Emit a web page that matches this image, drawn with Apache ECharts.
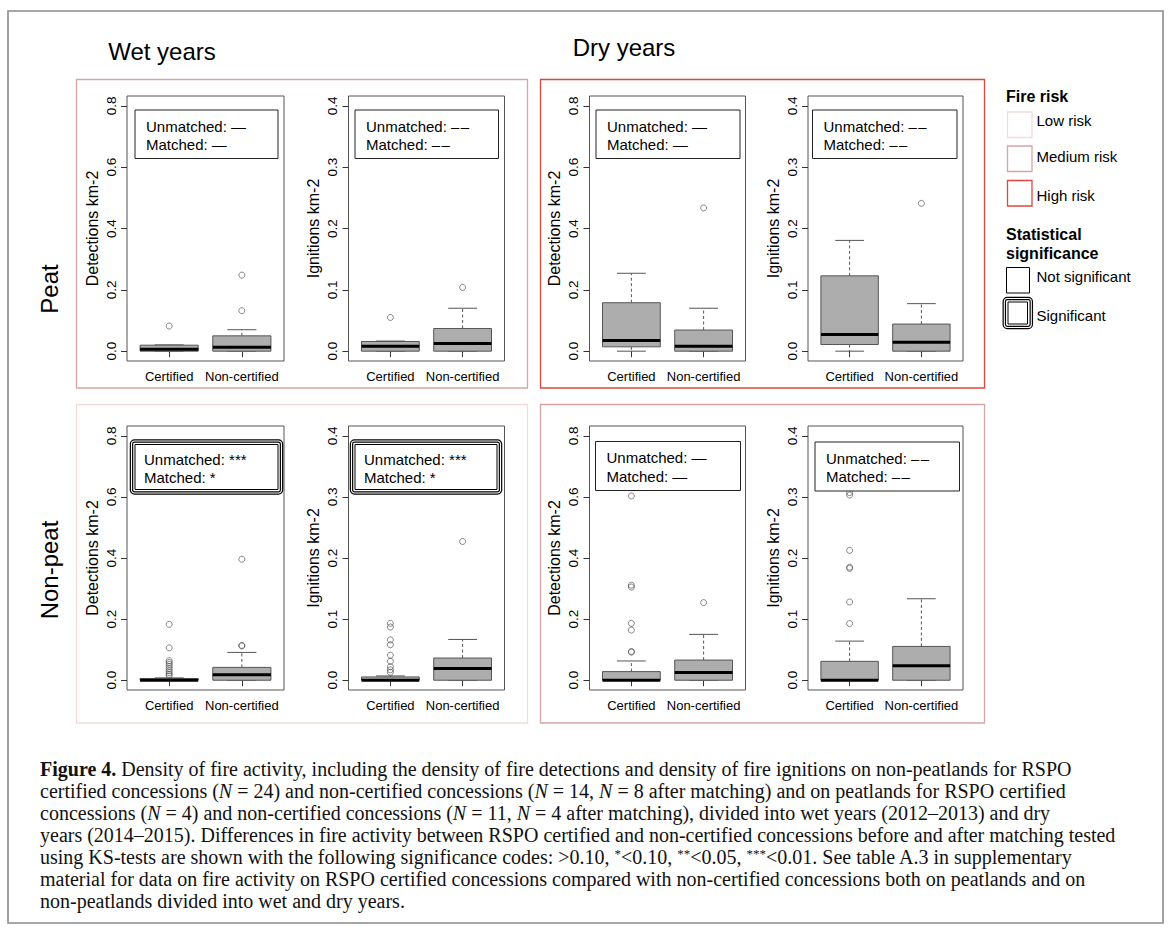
<!DOCTYPE html>
<html><head><meta charset="utf-8">
<script src="https://cdn.jsdelivr.net/npm/echarts@6/dist/echarts.min.js"></script>
<style>html,body{margin:0;padding:0;background:#fff}#c{width:1171px;height:937px}</style>
</head><body><div id="c"></div>
<script>
// ---------------- DATA ----------------
const categories = ['Certified', 'Non-certified'];
const detTicks = [0, 0.2, 0.4, 0.6, 0.8];
const ignTicks = [0, 0.1, 0.2, 0.3, 0.4];
// box stats: [lower whisker, Q1, median, Q3, upper whisker] for Certified, Non-certified
const wetPeatDetBox = [[0, 0, 0.0065, 0.0196, 0.0205], [0, 0, 0.013, 0.050, 0.070]];
const wetPeatDetOut = [[0.082], [0.132, 0.248]];
const wetPeatIgnBox = [[0, 0, 0.0082, 0.0158, 0.0165], [0, 0, 0.0126, 0.037, 0.070]];
const wetPeatIgnOut = [[0.055], [0.104]];
const dryPeatDetBox = [[0, 0.0142, 0.035, 0.158, 0.254], [0, 0, 0.0164, 0.069, 0.140]];
const dryPeatDetOut = [[], [0.467]];
const dryPeatIgnBox = [[0, 0.0109, 0.0273, 0.1228, 0.1806], [0, 0, 0.0147, 0.0442, 0.0775]];
const dryPeatIgnOut = [[], [0.241]];
const wetNonDetBox = [[0, 0, 0, 0.0054, 0.0076], [0, 0, 0.018, 0.042, 0.091]];
const wetNonDetOut = [[0.183, 0.106, 0.064, 0.058, 0.052, 0.045, 0.038, 0.031, 0.025, 0.019, 0.014], [0.112, 0.114, 0.396]];
const wetNonIgnBox = [[0, 0, 0, 0.0054, 0.0070], [0, 0, 0.019, 0.0363, 0.0667]];
const wetNonIgnOut = [[0.093, 0.087, 0.066, 0.058, 0.041, 0.031, 0.022, 0.017, 0.013], [0.227]];
const dryNonDetBox = [[0, 0, 0, 0.0282, 0.063], [0, 0, 0.025, 0.066, 0.150]];
const dryNonDetOut = [[0.092, 0.094, 0.164, 0.186, 0.305, 0.311, 0.603], [0.254]];
const dryNonIgnBox = [[0, 0, 0, 0.0309, 0.064], [0, 0, 0.0238, 0.0553, 0.1333]];
const dryNonIgnOut = [[0.0927, 0.128, 0.183, 0.185, 0.2125, 0.303, 0.307], []];
// significance codes: [Unmatched, Matched]
const wetPeatDetSig = ['—', '—'];
const wetPeatIgnSig = ['–\u200a–', '–\u200a–'];
const dryPeatDetSig = ['—', '—'];
const dryPeatIgnSig = ['–\u200a–', '–\u200a–'];
const wetNonDetSig = ['***', '*'];
const wetNonIgnSig = ['***', '*'];
const dryNonDetSig = ['—', '—'];
const dryNonIgnSig = ['–\u200a–', '–\u200a–'];
const colTitles = ['Wet years', 'Dry years'];
const rowTitles = ['Peat', 'Non-peat'];
const riskLabels = ['Low risk', 'Medium risk', 'High risk'];
const sigLabels = ['Not significant', 'Significant'];
const captionLines = [
  '{b|Figure 4.} Density of fire activity, including the density of fire detections and density of fire ignitions on non-peatlands for RSPO',
  'certified concessions ({i|N} = 24) and non-certified concessions ({i|N} = 14, {i|N} = 8 after matching) and on peatlands for RSPO certified',
  'concessions ({i|N} = 4) and non-certified concessions ({i|N} = 11, {i|N} = 4 after matching), divided into wet years (2012–2013) and dry',
  'years (2014–2015). Differences in fire activity between RSPO certified and non-certified concessions before and after matching tested',
  'using KS-tests are shown with the following significance codes: >0.10, {s|*}<0.10, {s|**}<0.05, {s|***}<0.01. See table A.3 in supplementary',
  'material for data on fire activity on RSPO certified concessions compared with non-certified concessions both on peatlands and on',
  'non-peatlands divided into wet and dry years.'
];

// ---------------- LAYOUT / STYLE ----------------
const SANS = '"Liberation Sans", Arial, Helvetica, sans-serif';
const SERIF = '"Liberation Serif", "Times New Roman", serif';
const CAP = 20;
const xLab = { fontFamily: SANS, fontSize: 13 };

const RISK = { low: '#f1dcdc', med: '#d7a4a4', high: '#e0463c' };
const panels = [
  { box: wetPeatDetBox, out: wetPeatDetOut, sig: wetPeatDetSig, kind: 'det', grid: [127, 96, 157, 265], note: [135, 110, 143, 48.5] },
  { box: wetPeatIgnBox, out: wetPeatIgnOut, sig: wetPeatIgnSig, kind: 'ign', grid: [348.5, 96, 156, 265], note: [355, 110, 143.5, 48.5] },
  { box: dryPeatDetBox, out: dryPeatDetOut, sig: dryPeatDetSig, kind: 'det', grid: [589.5, 96, 156, 265], note: [596, 110, 144, 48.5] },
  { box: dryPeatIgnBox, out: dryPeatIgnOut, sig: dryPeatIgnSig, kind: 'ign', grid: [808, 96, 155, 265], note: [812.5, 110, 144.5, 48.5] },
  { box: wetNonDetBox, out: wetNonDetOut, sig: wetNonDetSig, kind: 'det', grid: [127, 426, 157, 264], note: [130, 439.5, 153, 55], significant: true },
  { box: wetNonIgnBox, out: wetNonIgnOut, sig: wetNonIgnSig, kind: 'ign', grid: [348.5, 426, 156, 264], note: [350, 439.5, 152, 55], significant: true },
  { box: dryNonDetBox, out: dryNonDetOut, sig: dryNonDetSig, kind: 'det', grid: [589.5, 426, 156, 264], note: [595.5, 441.5, 145, 49] },
  { box: dryNonIgnBox, out: dryNonIgnOut, sig: dryNonIgnSig, kind: 'ign', grid: [808, 426, 155, 264], note: [815, 442, 144.5, 49] }
];
const frames = [
  { r: [76.5, 79.5, 451, 308.5], c: RISK.med },
  { r: [540.5, 79.5, 444, 308.5], c: RISK.high },
  { r: [76.5, 404.5, 451, 318.5], c: RISK.low },
  { r: [540.5, 404.5, 444, 318.5], c: RISK.med }
];

function renderBox(params, api) {
  const x = api.value(0);
  const lo = api.coord([x, api.value(1)]);
  const q1 = api.coord([x, api.value(2)]);
  const md = api.coord([x, api.value(3)]);
  const q3 = api.coord([x, api.value(4)]);
  const hi = api.coord([x, api.value(5)]);
  const w = api.size([0.8, 0])[0];
  const cx = q1[0];
  const ln = (x1, y1, x2, y2, style) => ({ type: 'line', shape: { x1, y1, x2, y2 }, style });
  const dash = { stroke: '#555', lineWidth: 1, lineDash: [3, 2.5] };
  const solid = { stroke: '#555', lineWidth: 1 };
  return {
    type: 'group', children: [
      ln(cx, q3[1], cx, hi[1], dash),
      ln(cx, q1[1], cx, lo[1], dash),
      ln(cx - w / 4, hi[1], cx + w / 4, hi[1], solid),
      ln(cx - w / 4, lo[1], cx + w / 4, lo[1], solid),
      { type: 'rect', shape: { x: cx - w / 2, y: q3[1], width: w, height: Math.max(q1[1] - q3[1], 0.5) }, style: { fill: '#adadad', stroke: '#555', lineWidth: 1 } },
      ln(cx - w / 2, md[1], cx + w / 2, md[1], { stroke: '#000', lineWidth: 3 })
    ]
  };
}

const grids = [], xAxes = [], yAxes = [], series = [], graphics = [];
panels.forEach((p, i) => {
  const [l, t, w, h] = p.grid;
  const ticks = p.kind === 'det' ? detTicks : ignTicks;
  const top = ticks[ticks.length - 1];
  grids.push({ left: l, top: t, width: w, height: h, show: true, borderColor: '#555', borderWidth: 1, backgroundColor: 'rgba(0,0,0,0)' });
  xAxes.push({
    gridIndex: i, type: 'value', min: 0.42, max: 2.58,
    axisLine: { show: false }, splitLine: { show: false },
    axisTick: { show: true, customValues: [1, 2], length: 6, lineStyle: { color: '#333' } },
    axisLabel: { customValues: [1, 2], formatter: v => categories[Math.round(v) - 1], margin: 9, color: '#000', fontSize: xLab.fontSize, fontFamily: xLab.fontFamily }
  });
  yAxes.push({
    gridIndex: i, type: 'value', min: -0.04 * top, max: 1.04 * top,
    axisLine: { show: false }, splitLine: { show: false },
    axisTick: { show: true, customValues: ticks, length: 6, lineStyle: { color: '#333' } },
    axisLabel: { customValues: ticks, rotate: 90, formatter: v => v.toFixed(1), margin: 9, color: '#000', fontSize: 13.5, fontFamily: SANS },
    name: p.kind === 'det' ? 'Detections km-2' : 'Ignitions km-2', nameLocation: 'middle', nameGap: 27,
    nameTextStyle: { fontSize: 16, color: '#000', fontFamily: SANS }
  });
  series.push({
    type: 'custom', xAxisIndex: i, yAxisIndex: i, renderItem: renderBox,
    encode: { x: 0, y: [1, 2, 3, 4, 5] },
    data: p.box.map((b, k) => [k + 1].concat(b)), z: 3
  });
  const pts = [];
  p.out.forEach((arr, k) => arr.forEach(v => pts.push([k + 1, v])));
  series.push({
    type: 'scatter', xAxisIndex: i, yAxisIndex: i, data: pts, symbol: 'circle', symbolSize: 6,
    itemStyle: { color: 'rgba(0,0,0,0)', borderColor: '#444', borderWidth: 0.8 }, z: 4, silent: true
  });
  // annotation box
  const [nx, ny, nw, nh] = p.note;
  const txt = (s, x, y) => ({ type: 'text', z: 103, x, y, style: { text: s, fontSize: 15, fontFamily: SANS, fill: '#000', verticalAlign: 'middle', align: 'left' } });
  if (p.significant) {
    graphics.push({ type: 'rect', z: 100, shape: { x: nx + 1.5, y: ny + 1.5, width: nw - 3, height: nh - 3, r: 3 }, style: { fill: '#fff', stroke: '#000', lineWidth: 3.5 } });
    graphics.push({ type: 'rect', z: 101, shape: { x: nx + 1.5, y: ny + 1.5, width: nw - 3, height: nh - 3, r: 3 }, style: { fill: 'none', stroke: '#fff', lineWidth: 1.1 } });
    graphics.push({ type: 'rect', z: 102, shape: { x: nx + 5, y: ny + 5, width: nw - 10, height: nh - 10 }, style: { fill: 'none', stroke: '#000', lineWidth: 1 } });
    graphics.push(txt('Unmatched: ' + p.sig[0], nx + 14, ny + 20));
    graphics.push(txt('Matched: ' + p.sig[1], nx + 14, ny + 38));
  } else {
    graphics.push({ type: 'rect', z: 100, shape: { x: nx, y: ny, width: nw, height: nh }, style: { fill: '#fff', stroke: '#222', lineWidth: 1 } });
    graphics.push(txt('Unmatched: ' + p.sig[0], nx + 11, ny + 16));
    graphics.push(txt('Matched: ' + p.sig[1], nx + 11, ny + 34.5));
  }
});

// outer figure border
graphics.push({ type: 'rect', z: 1, shape: { x: 8, y: 11, width: 1155, height: 912 }, style: { fill: 'none', stroke: '#8a8a8a', lineWidth: 1.6 } });
// risk frames
frames.forEach(f => graphics.push({ type: 'rect', z: 1, shape: { x: f.r[0], y: f.r[1], width: f.r[2], height: f.r[3] }, style: { fill: 'none', stroke: f.c, lineWidth: 1.3 } }));
// column / row titles
graphics.push({ type: 'text', x: 162, y: 51, style: { text: colTitles[0], fontSize: 24, fontFamily: SANS, fill: '#000', align: 'center', verticalAlign: 'middle' } });
graphics.push({ type: 'text', x: 624, y: 47.5, style: { text: colTitles[1], fontSize: 24, fontFamily: SANS, fill: '#000', align: 'center', verticalAlign: 'middle' } });
graphics.push({ type: 'text', x: 49, y: 289, rotation: Math.PI / 2, style: { text: rowTitles[0], fontSize: 24, fontFamily: SANS, fill: '#000', align: 'center', verticalAlign: 'middle' } });
graphics.push({ type: 'text', x: 49, y: 570, rotation: Math.PI / 2, style: { text: rowTitles[1], fontSize: 24, fontFamily: SANS, fill: '#000', align: 'center', verticalAlign: 'middle' } });
// legend
const legText = (t, x, y, bold) => ({ type: 'text', x, y, style: { text: t, fontSize: bold ? 16 : 15, fontWeight: bold ? 'bold' : 'normal', fontFamily: SANS, fill: '#000', align: 'left', verticalAlign: 'middle' } });
graphics.push(legText('Fire risk', 1006, 96.5, true));
const riskCols = [RISK.low, RISK.med, RISK.high];
const riskY = [112, 146, 180.5];
const riskTY = [120, 156.5, 195.5];
riskLabels.forEach((t, k) => {
  graphics.push({ type: 'rect', shape: { x: 1007.5, y: riskY[k], width: 24.5, height: 25.5 }, style: { fill: '#fff', stroke: riskCols[k], lineWidth: 1.3 } });
  graphics.push(legText(t, 1036.5, riskTY[k], false));
});
graphics.push(legText('Statistical', 1006, 234, true));
graphics.push(legText('significance', 1006, 253, true));
graphics.push({ type: 'rect', shape: { x: 1006.5, y: 267.5, width: 23, height: 25.5 }, style: { fill: '#fff', stroke: '#000', lineWidth: 1 } });
graphics.push(legText(sigLabels[0], 1036.5, 276.5, false));
graphics.push({ type: 'rect', shape: { x: 1004.3, y: 298.5, width: 27, height: 29, r: 3 }, style: { fill: '#fff', stroke: '#000', lineWidth: 3.5 } });
graphics.push({ type: 'rect', shape: { x: 1004.3, y: 298.5, width: 27, height: 29, r: 3 }, style: { fill: 'none', stroke: '#fff', lineWidth: 1.1 } });
graphics.push({ type: 'rect', shape: { x: 1008, y: 302, width: 19.5, height: 22 }, style: { fill: 'none', stroke: '#000', lineWidth: 1 } });
graphics.push(legText(sigLabels[1], 1036.5, 315.5, false));
// caption
captionLines.forEach((line, k) => {
  graphics.push({
    type: 'text', x: 40, y: 769 + k * 22,
    style: {
      text: line, fontSize: CAP, fontFamily: SERIF, fill: '#111', align: 'left', verticalAlign: 'middle',
      rich: {
        b: { fontWeight: 'bold', fontSize: CAP, fontFamily: SERIF, fill: '#111' },
        i: { fontStyle: 'italic', fontSize: CAP, fontFamily: SERIF, fill: '#111' },
        s: { fontSize: 13, fontFamily: SERIF, fill: '#111', verticalAlign: 'top' }
      }
    }
  });
});

const chart = echarts.init(document.getElementById('c'), null, { renderer: 'svg', width: 1171, height: 937 });
chart.setOption({
  backgroundColor: '#fff',
  animation: false,
  grid: grids, xAxis: xAxes, yAxis: yAxes, series: series,
  graphic: { elements: graphics }
});
</script>
</body></html>
